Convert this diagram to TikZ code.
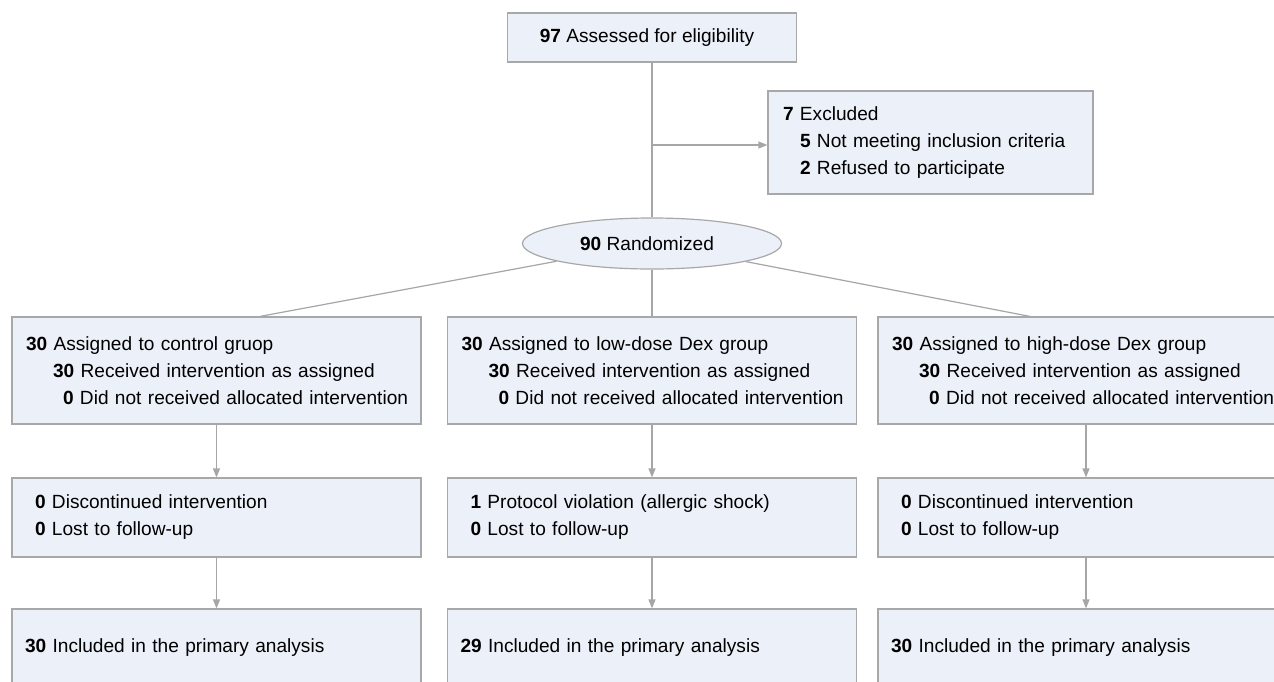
\documentclass[tikz,border=0pt]{standalone}
\usepackage{fontspec}
\setmainfont{Liberation Sans}
\usetikzlibrary{shapes.geometric,arrows.meta}
\definecolor{boxfill}{HTML}{ECF0F9}
\definecolor{boxline}{HTML}{A8A8A8}
\definecolor{connc}{HTML}{A6A6A6}
\begin{document}
\begin{tikzpicture}[x=1pt,y=-1pt,
  every node/.style={font=\fontsize{19.1}{27}\selectfont},
  box/.style={draw=boxline, fill=boxfill, line width=1.2pt, rectangle, inner ysep=0pt, align=left},
  ebox/.style={draw=boxline, fill=boxfill, line width=1.2pt, ellipse, inner sep=0pt},
  conn/.style={draw=connc, line width=1.2pt},
  arr/.style={conn, -{Triangle[length=9pt,width=7pt]}}]
\clip (0,0) rectangle (1274,681);
\fill[white] (0,0) rectangle (1274,681);
% top
\node[box, align=center, minimum width=289pt, minimum height=49pt, inner xsep=0pt] (top) at (652,37.5) {\textbf{97} Assessed for eligibility\hspace*{10pt}};
\node[box, text width=295pt, inner xsep=15pt, minimum height=103pt] (ex) at (930.5,142.5)
  {\mbox{\textbf{7} Excluded}\\ \mbox{\hspace*{17pt}\textbf{5} Not meeting inclusion criteria}\\ \mbox{\hspace*{17pt}\textbf{2} Refused to participate}};
\node[ebox, minimum width=259pt, minimum height=51pt] (rand) at (652,243.5) {\textbf{90} Randomized\hspace*{10pt}};
% row 1
\node[box, text width=381pt, inner xsep=14pt, minimum height=107pt] (a1) at (216.5,370.5)
  {\mbox{\textbf{30} Assigned to control gruop}\\ \mbox{\hspace*{27pt}\textbf{30} Received intervention as assigned}\\ \mbox{\hspace*{37pt}\textbf{0} Did not received allocated intervention}};
\node[box, text width=381pt, inner xsep=14pt, minimum height=107pt] (a2) at (652,370.5)
  {\mbox{\textbf{30} Assigned to low-dose Dex group}\\ \mbox{\hspace*{27pt}\textbf{30} Received intervention as assigned}\\ \mbox{\hspace*{37pt}\textbf{0} Did not received allocated intervention}};
\node[box, text width=388pt, inner xsep=14pt, minimum height=107pt] (a3) at (1086,370.5)
  {\mbox{\textbf{30} Assigned to high-dose Dex group}\\ \mbox{\hspace*{27pt}\textbf{30} Received intervention as assigned}\\ \mbox{\hspace*{37pt}\textbf{0} Did not received allocated intervention}};
% row 2
\node[box, text width=363pt, inner xsep=23pt, minimum height=79pt] (b1) at (216.5,517.5)
  {\mbox{\textbf{0} Discontinued intervention}\\ \mbox{\textbf{0} Lost to follow-up}};
\node[box, text width=363pt, inner xsep=23pt, minimum height=79pt] (b2) at (652,517.5)
  {\mbox{\textbf{1} Protocol violation (allergic shock)}\\ \mbox{\textbf{0} Lost to follow-up}};
\node[box, text width=370pt, inner xsep=23pt, minimum height=79pt] (b3) at (1086,517.5)
  {\mbox{\textbf{0} Discontinued intervention}\\ \mbox{\textbf{0} Lost to follow-up}};
% row 3
\node[box, text width=383pt, inner xsep=13pt, minimum height=78pt] (c1) at (216.5,648)
  {\mbox{\textbf{30} Included in the primary analysis}};
\node[box, text width=383pt, inner xsep=13pt, minimum height=78pt] (c2) at (652,648)
  {\mbox{\textbf{29} Included in the primary analysis}};
\node[box, text width=390pt, inner xsep=13pt, minimum height=78pt] (c3) at (1086,648)
  {\mbox{\textbf{30} Included in the primary analysis}};
% connectors
\draw[conn] (top) -- (rand);
\coordinate (j) at (652,145);
\draw[arr] (j) -- (j -| ex.west);
\draw[conn] (rand) -- ([xshift=43.5pt]a1.north);
\draw[conn] (rand) -- (a2);
\draw[conn] (rand) -- ([xshift=-56pt]a3.north);
\draw[arr] (a1) -- (b1);
\draw[arr] (a2) -- (b2);
\draw[arr] (a3) -- (b3);
\draw[arr] (b1) -- (c1);
\draw[arr] (b2) -- (c2);
\draw[arr] (b3) -- (c3);
\end{tikzpicture}
\end{document}
